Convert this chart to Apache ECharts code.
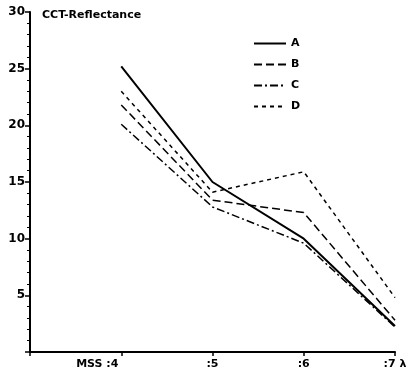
<!DOCTYPE html>
<html>
<head>
<meta charset="utf-8">
<script src="https://cdn.jsdelivr.net/npm/echarts@6/dist/echarts.min.js"></script>
<style>
  html, body { margin: 0; padding: 0; background: #fff; }
  #chart { width: 417px; height: 379px; }
</style>
</head>
<body>
<div id="chart"></div>
<script>
// MSS bands and the reflectance
var bands = [4, 5, 6, 7];
var serA = [25.2, 15.0, 10.0, 2.3];
var serB = [21.8, 13.4, 12.3, 2.8];
var serC = [20.1, 12.8, 9.6, 2.2];
var serD = [23.0, 14.1, 15.9, 4.8];
var bandLabels = {4: '{m|MSS :4}', 5: ':5', 6: ':6', 7: ':7 λ'};
var yTicks = [5, 10, 15, 20, 25, 30];

var chart = echarts.init(document.getElementById('chart'));

function pairs(vals) {
    return bands.map(function (b, i) { return [b, vals[i]]; });
}

function mkSeries(name, vals, type, width) {
    return {
        name: name,
        type: 'line',
        data: pairs(vals),
        symbol: 'none',
        lineStyle: { color: '#000', width: width, type: type },
        itemStyle: { color: '#000' }
    };
}

var font = 'DejaVu Sans';

var option = {
    animation: false,
    backgroundColor: '#fff',
    grid: { left: 30, right: 22, top: 12, bottom: 27 },
    title: {
        text: 'CCT-Reflectance',
        left: 37, top: 5,
        textStyle: { fontSize: 11, fontWeight: 'bold', color: '#000', fontFamily: font }
    },
    legend: {
        orient: 'vertical',
        left: 248, top: 33,
        itemWidth: 32, itemHeight: 12, itemGap: 10,
        itemStyle: { opacity: 0 },
        textStyle: { fontSize: 11, fontWeight: 'bold', color: '#000', fontFamily: font },
        data: ['A', 'B', 'C', 'D']
    },
    xAxis: {
        type: 'value', min: 3, max: 7, interval: 1,
        axisLine: { lineStyle: { color: '#000', width: 2 } },
        axisTick: { show: true, length: 4, lineStyle: { color: '#000', width: 1.5 } },
        splitLine: { show: false },
        axisLabel: {
            color: '#000', fontSize: 11, fontWeight: 'bold', fontFamily: font, margin: 7,
            formatter: function (v) { return bandLabels[v] || ''; },
            rich: { m: { fontSize: 11, fontWeight: 'bold', fontFamily: font, padding: [0, 48, 0, 0] } }
        }
    },
    yAxis: {
        type: 'value', min: 0, max: 30, interval: 5,
        axisLine: { show: true, lineStyle: { color: '#000', width: 2 } },
        axisTick: { show: true, length: 5, lineStyle: { color: '#000', width: 1.5 } },
        minorTick: { show: true, splitNumber: 5, length: 3, lineStyle: { color: '#000', width: 1 } },
        splitLine: { show: false },
        axisLabel: {
            color: '#000', fontSize: 12, fontWeight: 'bold', fontFamily: font, margin: 5,
            formatter: function (v) { return yTicks.indexOf(v) >= 0 ? String(v) : ''; }
        }
    },
    series: [
        mkSeries('A', serA, 'solid', 2),
        mkSeries('B', serB, [8, 4], 1.5),
        mkSeries('C', serC, [8, 3, 2, 3], 1.5),
        mkSeries('D', serD, [4, 4], 1.5)
    ]
};
chart.setOption(option);
</script>
</body>
</html>
